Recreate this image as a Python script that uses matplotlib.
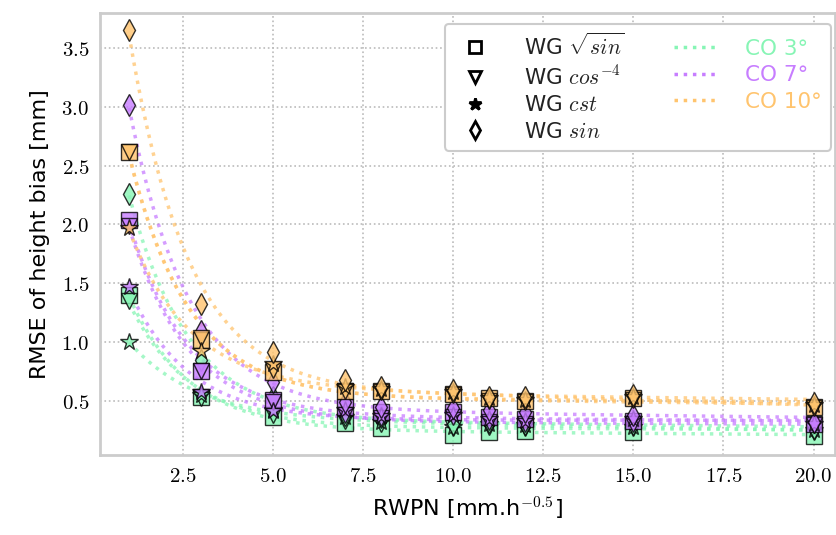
import numpy as np
import matplotlib
matplotlib.use("Agg")
import matplotlib.pyplot as plt
from matplotlib.lines import Line2D

plt.rcParams['mathtext.fontset'] = 'cm'
plt.rcParams['font.family'] = ['DejaVu Sans']

# RWPN values (x axis)
rwpn = [1, 3, 5, 7, 8, 10, 11, 12, 15, 20]

# RMSE of height bias, one list per (CO angle, WG weighting)
co3_sqrt = [1.40, 0.53, 0.36, 0.31, 0.27, 0.21, 0.23, 0.24, 0.23, 0.20]
co3_cos = [1.35, 0.52, 0.38, 0.33, 0.30, 0.27, 0.28, 0.27, 0.27, 0.23]
co3_cst = [1.00, 0.55, 0.42, 0.36, 0.32, 0.28, 0.30, 0.29, 0.28, 0.25]
co3_sin = [2.26, 0.85, 0.53, 0.38, 0.36, 0.30, 0.32, 0.30, 0.30, 0.27]

co7_sqrt = [2.04, 0.75, 0.51, 0.45, 0.40, 0.40, 0.36, 0.34, 0.33, 0.30]
co7_cos = [1.99, 0.75, 0.49, 0.38, 0.35, 0.36, 0.32, 0.30, 0.30, 0.29]
co7_cst = [1.47, 0.57, 0.41, 0.42, 0.37, 0.38, 0.34, 0.33, 0.34, 0.30]
co7_sin = [3.02, 1.09, 0.66, 0.49, 0.45, 0.44, 0.42, 0.40, 0.38, 0.32]

co10_sqrt = [2.62, 1.02, 0.74, 0.58, 0.58, 0.56, 0.52, 0.50, 0.52, 0.45]
co10_cos = [2.62, 1.03, 0.76, 0.58, 0.57, 0.55, 0.50, 0.49, 0.51, 0.44]
co10_cst = [1.97, 0.92, 0.81, 0.62, 0.60, 0.57, 0.52, 0.51, 0.53, 0.46]
co10_sin = [3.65, 1.32, 0.91, 0.68, 0.62, 0.59, 0.53, 0.53, 0.55, 0.48]

co_labels = ['CO 3°', 'CO 7°', 'CO 10°']
co_colors = ['#87F5B5', '#C77DFF', '#FFC46E']
wg_labels = [r'WG $\sqrt{sin}$', r'WG $cos^{-4}$', r'WG $cst$', r'WG $sin$']
wg_markers = ['s', 'v', '*', 'd']

series = [
    [co3_sqrt, co3_cos, co3_cst, co3_sin],
    [co7_sqrt, co7_cos, co7_cst, co7_sin],
    [co10_sqrt, co10_cos, co10_cst, co10_sin],
]


def exp_fit(x, y):
    """least squares fit of y = a*exp(-b*x) + c + d*x (grid over b)"""
    best = None
    for b in np.linspace(0.05, 0.6, 200):
        A = np.column_stack([np.exp(-b * x), np.ones_like(x), x])
        coef = np.linalg.lstsq(A, y, rcond=None)[0]
        err = np.sum((A @ coef - y) ** 2)
        if best is None or err < best[0]:
            best = (err, b, coef)
    _, b, (a, c, d) = best
    return lambda t: a * np.exp(-b * t) + c + d * t


fig = plt.figure(figsize=(8.36, 5.35), dpi=100)
ax = fig.add_axes([0.12, 0.15, 0.879, 0.826])

x = np.array(rwpn, dtype=float)
xs = np.linspace(1, 20, 300)
for c, color in enumerate(co_colors):
    for w, marker in enumerate(wg_markers):
        y = np.array(series[c][w])
        f = exp_fit(x, y)
        ax.plot(xs, f(xs), ls=':', lw=2.5, color=color, alpha=0.75, zorder=2)
        ms = 13 if marker == '*' else 11
        ax.plot(x, y, ls='none', marker=marker, ms=ms, mfc=color, mec=(0, 0, 0, 0.4),
                mew=1.0, alpha=0.8, zorder=3)

ax.set_xlim(0.2, 20.6)
ax.set_ylim(0.04, 3.8)
ax.set_xticks([2.5, 5.0, 7.5, 10.0, 12.5, 15.0, 17.5, 20.0])
ax.set_yticks([0.5, 1.0, 1.5, 2.0, 2.5, 3.0, 3.5])
ax.set_xticklabels(['$%.1f$' % t for t in ax.get_xticks()], fontsize=15)
ax.set_yticklabels(['$%.1f$' % t for t in ax.get_yticks()], fontsize=15)
ax.tick_params(length=0, pad=8)
ax.grid(True, ls=':', lw=1.2, color='#bbbbbb')
ax.set_axisbelow(True)
for s in ax.spines.values():
    s.set_color('#cccccc')
    s.set_linewidth(2)

ax.set_xlabel(r'RWPN [mm.h$^{-0.5}$]', fontsize=16, labelpad=6)
ax.set_ylabel('RMSE of height bias [mm]', fontsize=16, labelpad=8)

handles = []
for lab, m in zip(wg_labels, wg_markers):
    handles.append(Line2D([], [], ls='none', marker=m, ms=9,
                          mfc='white' if m != '*' else 'black', mec='black', mew=2, label=lab))
for lab, col in zip(co_labels, co_colors):
    handles.append(Line2D([], [], ls=':', lw=2.5, color=col, label=lab))

leg = ax.legend(handles=handles, ncol=2, loc='upper right', fontsize=15.5, frameon=True,
                fancybox=True, edgecolor='#cccccc', framealpha=1.0, borderpad=0.4,
                columnspacing=2.3, handletextpad=1.3, labelspacing=0.3,
                borderaxespad=0.2, bbox_to_anchor=(1.0, 0.985))
leg.get_frame().set_linewidth(1.5)
for t, col in zip(leg.get_texts()[4:], co_colors):
    t.set_color(col)
for t in leg.get_texts()[:4]:
    t.set_color('#222222')

fig.savefig('out.png', dpi=100)
